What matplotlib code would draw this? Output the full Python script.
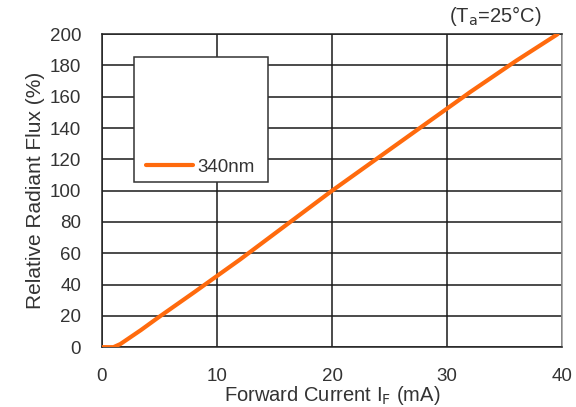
import matplotlib.pyplot as plt
from matplotlib.patches import Rectangle
from matplotlib.lines import Line2D

plt.rcParams['font.family'] = ['Liberation Sans', 'DejaVu Sans']

# forward current (mA) vs relative radiant flux (%)
current = [0, 1.0, 1.6, 2.4, 3.4, 4.9, 8.0, 12.0, 16.0, 20.0, 24.0, 28.0, 32.0, 36.0, 39.6]
flux = [0, 0, 2, 6, 11, 19, 35, 56, 78, 100, 121, 142, 163, 183, 200]
series_label = '340nm'
xticks = [0, 10, 20, 30, 40]
yticks = list(range(0, 201, 20))

fig = plt.figure(figsize=(5.76, 4.07), dpi=100)
ax = fig.add_axes([0.177, 0.147, 0.799, 0.769])

ax.plot(current, flux, color='#ff6a0d', lw=3.0, solid_capstyle='round',
        solid_joinstyle='round', zorder=4)

ax.set_xlim(0, 40)
ax.set_ylim(0, 200)
ax.set_xticks(xticks)
ax.set_yticks(yticks)
ax.grid(True, color='#1a1a1a', lw=1.1)
ax.set_axisbelow(True)
ax.tick_params(length=0, labelsize=13.5, colors='#333333')
ax.tick_params(axis='y', pad=15)
ax.tick_params(axis='x', pad=15)
for side in ax.spines.values():
    side.set_color('#222222')
    side.set_linewidth(1.1)
ax.spines['right'].set_color('#999999')

ax.set_xlabel('Forward Current I$_\\mathrm{F}$ (mA)', fontsize=14.5, color='#333333', labelpad=-1)
ax.set_ylabel('Relative Radiant Flux (%)', fontsize=15, color='#333333', labelpad=3)

# legend box
ax.add_patch(Rectangle((0.070, 0.528), 0.291, 0.399, transform=ax.transAxes,
                       facecolor='white', edgecolor='#333333', lw=1.1, zorder=3))
handle = Line2D([], [], color='#ff6a0d', lw=3.0, solid_capstyle='round')
leg = ax.legend([handle], [series_label], loc='center left', bbox_to_anchor=(0.095, 0.575),
                frameon=False, handlelength=2.5, handletextpad=0.25, fontsize=13.5,
                borderpad=0, borderaxespad=0)
leg.set_zorder(5)
for t in leg.get_texts():
    t.set_color('#333333')

fig.text(0.94, 0.96, '(T$_\\mathrm{a}$=25\u00b0C)', ha='right', va='center',
         fontsize=14.5, color='#333333')

fig.savefig('out.png', dpi=100)
